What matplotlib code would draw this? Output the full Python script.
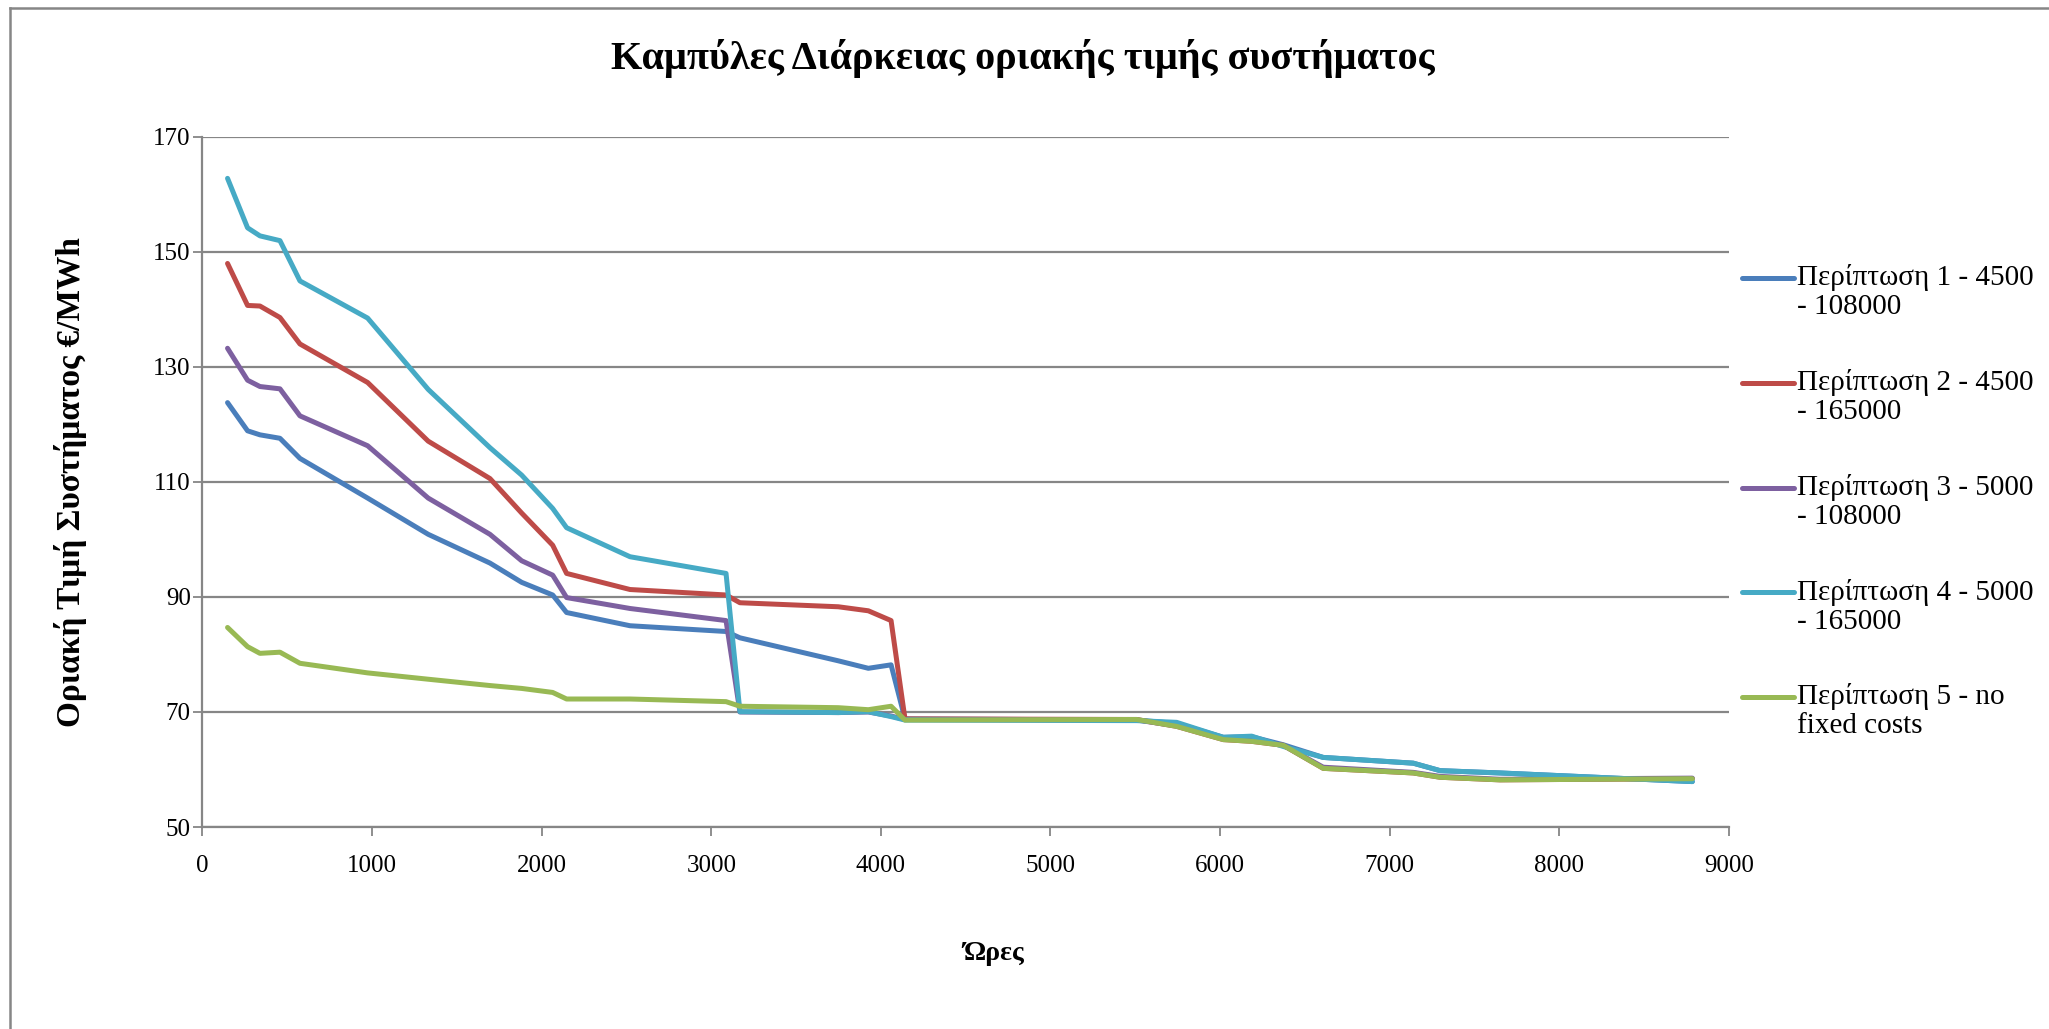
import matplotlib
matplotlib.use("Agg")
import matplotlib.pyplot as plt
from matplotlib.lines import Line2D
from matplotlib.legend_handler import HandlerLine2D

hours = [148, 266, 339, 457, 575, 974, 1331, 1695, 1882, 2065, 2147, 2521, 3087, 3169,
         3749, 3926, 4060, 4142, 5508, 5744, 6019, 6186, 6373, 6608, 7139, 7297, 7650, 8784]

case1 = [123.8, 118.9, 118.2, 117.6, 114.1, 107.2, 100.9, 95.9, 92.55, 90.35, 87.3, 85.0, 84.0, 82.9,
         78.9, 77.6, 78.2, 68.8, 68.6, 68.0, 65.6, 65.7, 64.3, 62.1, 61.1, 59.8, 59.4, 57.9]
case2 = [148.0, 140.7, 140.6, 138.6, 134.0, 127.3, 117.1, 110.6, 104.6, 99.0, 94.1, 91.3, 90.35, 89.0,
         88.3, 87.6, 85.9, 68.8, 68.7, 67.5, 65.2, 64.9, 64.2, 60.2, 59.4, 58.65, 58.2, 58.4]
case3 = [133.25, 127.7, 126.6, 126.2, 121.5, 116.3, 107.2, 100.9, 96.3, 93.8, 89.9, 88.0, 85.9, 70.0,
         69.9, 70.0, 69.3, 68.7, 68.6, 67.6, 65.4, 65.1, 64.2, 60.4, 59.5, 58.8, 58.3, 58.5]
case4 = [162.8, 154.2, 152.8, 151.97, 144.96, 138.5, 126.1, 115.97, 111.2, 105.4, 102.05, 97.0, 94.1, 70.05,
         69.9, 70.05, 69.2, 68.6, 68.5, 68.2, 65.6, 65.8, 64.0, 62.1, 61.1, 59.8, 59.4, 57.9]
case5 = [84.7, 81.36, 80.2, 80.4, 78.47, 76.8, 75.7, 74.6, 74.1, 73.4, 72.26, 72.26, 71.8, 71.0,
         70.75, 70.4, 71.0, 68.6, 68.7, 67.5, 65.2, 64.9, 64.2, 60.2, 59.4, 58.65, 58.2, 58.4]

labels = ["Περίπτωση 1 - 4500\n- 108000",
          "Περίπτωση 2 - 4500\n- 165000",
          "Περίπτωση 3 - 5000\n- 108000",
          "Περίπτωση 4 - 5000\n- 165000",
          "Περίπτωση 5 - no\nfixed costs"]
series = [case1, case2, case3, case4, case5]
colors = ["#4A7EBB", "#BE4B48", "#7D60A0", "#46AAC5", "#98B954"]

title = "Καμπύλες Διάρκειας οριακής τιμής συστήματος"
xlabel = "Ώρες"
ylabel = "Οριακή Τιμή Συστήματος €/MWh"
xticks = list(range(0, 9001, 1000))
yticks = list(range(50, 171, 20))

FONT = ["Liberation Serif", "DejaVu Serif"]
plt.rcParams["font.family"] = FONT
GRAY = "#868686"

fig = plt.figure(figsize=(20.49, 10.29), dpi=100)
ax = fig.add_axes([0.0988, 0.1963, 0.7450, 0.6706])

for ys, c, lab in zip(series, colors, labels):
    ax.plot(hours, ys, color=c, lw=3.6, label=lab, solid_joinstyle="round", solid_capstyle="round")

ax.set_xlim(0, 9000)
ax.set_ylim(50, 170)
ax.set_xticks(xticks)
ax.set_yticks(yticks)
ax.yaxis.grid(True, color=GRAY, lw=1.6)
ax.set_axisbelow(True)
for s in ["top", "right"]:
    ax.spines[s].set_visible(False)
for s in ["left", "bottom"]:
    ax.spines[s].set_color(GRAY)
    ax.spines[s].set_linewidth(1.6)
ax.tick_params(axis="both", direction="out", color=GRAY, width=1.3, length=6.5,
               labelsize=18, pad=2)
ax.tick_params(axis="x", pad=14)

fig.suptitle(title, x=0.499, y=1 - 59 / 1029, va="center", fontsize=29, fontweight="bold")
ax.set_xlabel(xlabel, fontsize=20, fontweight="bold")
ax.xaxis.set_label_coords(0.518, -0.165)
ax.set_ylabel(ylabel, fontsize=24, fontweight="bold")
ax.yaxis.set_label_coords(-0.0755, 0.5)


class TopLineHandler(HandlerLine2D):
    def create_artists(self, legend, orig_handle, xdescent, ydescent, width, height, fontsize, trans):
        arts = super().create_artists(legend, orig_handle, xdescent, ydescent, width, height, fontsize, trans)
        for a in arts:
            yd = a.get_ydata()
            a.set_ydata([v + 0.48 * fontsize for v in yd])
        return arts


leg = ax.legend(loc="upper left", bbox_to_anchor=(1.0085, 0.8153), frameon=False,
                fontsize=21, handlelength=1.8, handletextpad=0.1, labelspacing=1.67,
                borderpad=0, borderaxespad=0,
                handler_map={Line2D: TopLineHandler()})
for t in leg.get_texts():
    t.set_linespacing(1.15)

# chart-area frame (partly cut off at right and bottom)
fig.add_artist(Line2D([10 / 2049, 10 / 2049], [1 - 8 / 1029, 0], transform=fig.transFigure,
                      color=GRAY, lw=1.8))
fig.add_artist(Line2D([10 / 2049, 1], [1 - 8 / 1029, 1 - 8 / 1029], transform=fig.transFigure,
                      color=GRAY, lw=1.8))

fig.savefig("out.png", dpi=100, facecolor="white")
